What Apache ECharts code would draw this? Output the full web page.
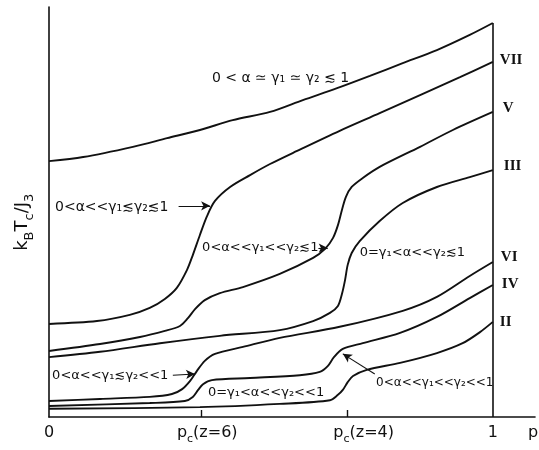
<!DOCTYPE html>
<html><head><meta charset="utf-8">
<script src="https://cdn.jsdelivr.net/npm/echarts@6/dist/echarts.min.js"></script>
<style>html,body{margin:0;padding:0;background:#fff}#c{width:539px;height:450px}</style>
</head><body><div id="c"></div>
<script>
// ---- data (x = p, y = k_B T_c / J_3, arbitrary units) ----
const curveTop = [[0,0.624],[0.077,0.634],[0.189,0.659],[0.266,0.680],[0.34,0.700],[0.414,0.724],[0.498,0.744],[0.572,0.773],[0.649,0.802],[0.723,0.832],[0.797,0.863],[0.874,0.895],[0.948,0.932],[1,0.961]];
const curveVII = [[0,0.227],[0.108,0.234],[0.182,0.249],[0.227,0.266],[0.261,0.288],[0.288,0.315],[0.311,0.359],[0.324,0.395],[0.340,0.444],[0.356,0.490],[0.374,0.527],[0.408,0.561],[0.453,0.590],[0.498,0.617],[0.559,0.649],[0.655,0.698],[0.745,0.741],[0.836,0.785],[0.926,0.829],[1,0.866]];
const curveV = [[0,0.161],[0.115,0.178],[0.205,0.195],[0.261,0.210],[0.295,0.222],[0.313,0.241],[0.329,0.263],[0.351,0.285],[0.385,0.302],[0.437,0.317],[0.520,0.349],[0.595,0.388],[0.622,0.410],[0.640,0.437],[0.651,0.468],[0.660,0.505],[0.669,0.537],[0.682,0.561],[0.707,0.583],[0.745,0.610],[0.836,0.659],[0.910,0.700],[1,0.744]];
const curveIII = [[0,0.146],[0.115,0.159],[0.25,0.180],[0.385,0.198],[0.52,0.212],[0.595,0.234],[0.633,0.254],[0.651,0.271],[0.660,0.300],[0.667,0.334],[0.673,0.371],[0.682,0.400],[0.700,0.429],[0.745,0.478],[0.797,0.522],[0.874,0.561],[0.948,0.585],[1,0.602]];
const curveVI = [[0,0.039],[0.115,0.044],[0.227,0.049],[0.277,0.056],[0.300,0.068],[0.318,0.088],[0.333,0.112],[0.351,0.137],[0.374,0.154],[0.437,0.171],[0.520,0.193],[0.655,0.220],[0.797,0.259],[0.874,0.293],[0.948,0.344],[1,0.378]];
const curveIV = [[0,0.027],[0.227,0.034],[0.306,0.039],[0.324,0.049],[0.336,0.066],[0.347,0.080],[0.367,0.090],[0.453,0.095],[0.565,0.102],[0.610,0.110],[0.628,0.124],[0.642,0.146],[0.662,0.166],[0.707,0.180],[0.791,0.205],[0.874,0.244],[0.948,0.290],[1,0.322]];
const curveII = [[0,0.020],[0.34,0.024],[0.52,0.032],[0.633,0.041],[0.651,0.054],[0.662,0.066],[0.673,0.085],[0.685,0.100],[0.716,0.115],[0.791,0.132],[0.874,0.156],[0.932,0.180],[0.971,0.207],[1,0.232]];

const curveNames = ['', 'VII', 'V', 'III', 'VI', 'IV', 'II'];
const curves = [curveTop, curveVII, curveV, curveIII, curveVI, curveIV, curveII];

const pc6 = 0.343, pc4 = 0.673;
const xTickValues = [0, pc6, pc4, 1, 1.095];
const xTickLabels = ['{n|0}', '{n|p}{s|c}{n|(z=6)}', '{n|p}{s|c}{n|(z=4)}', '{n|1}', '{n|p}'];
const yAxisLabel = '{n|k}{s|B}{n|T}{s|c}{n|/J}{s|3}';

const annotationTexts = [
  '0 < α ≃ γ₁ ≃ γ₂ ≲ 1',
  '0<α<<γ₁≲γ₂≲1',
  '0<α<<γ₁<<γ₂≲1',
  '0=γ₁<α<<γ₂≲1',
  '0<α<<γ₁≲γ₂<<1',
  '0=γ₁<α<<γ₂<<1',
  '0<α<<γ₁<<γ₂<<1'
];

// ---- layout (positions / styles) ----
const annotationAnchors = [[0.367,0.827],[0.0135,0.512],[0.345,0.412],[0.700,0.402],[0.007,0.102],[0.358,0.059],[0.737,0.083]];
const annotationSizes = [14, 14, 13, 13, 13, 13, 12];
const arrowSegments = [
  [[0.292,0.515],[0.363,0.515]],
  [[0.607,0.412],[0.628,0.412]],
  [[0.279,0.102],[0.329,0.105]],
  [[0.734,0.105],[0.662,0.154]]
];
const endLabelOffsets = [[0,0],[-1,-2],[2,-4],[3,-4],[0,-5],[1,-1],[-1,0]];
const xLabelShift = [0, 6, 16, 0, -2];
const INK = '#111';
const FONT = '"DejaVu Sans", "Liberation Sans", sans-serif';

const chart = echarts.init(document.getElementById('c'), null, {renderer: 'canvas'});

const series = curves.map((c, i) => ({
  type: 'line',
  name: curveNames[i],
  data: c,
  showSymbol: false,
  smooth: 0.3,
  silent: true,
  lineStyle: {color: INK, width: 1.9},
  endLabel: {
    show: curveNames[i] !== '',
    formatter: () => curveNames[i],
    offset: endLabelOffsets[i],
    color: INK,
    fontFamily: '"Liberation Serif", serif',
    fontWeight: 'bold',
    fontSize: 15
  }
}));

// vertical line at p = 1 and annotation arrows
series[0].markLine = {
  silent: true,
  animation: false,
  symbolSize: [7, 9],
  label: {show: false},
  lineStyle: {color: INK, width: 1.6, type: 'solid'},
  data: [
    [{coord: [1, 0], symbol: 'none'}, {coord: [1, curveTop[curveTop.length - 1][1]], symbol: 'none'}]
  ].concat(arrowSegments.map(s => [
    {coord: s[0], symbol: 'none', lineStyle: {width: 1.1}},
    {coord: s[1], symbol: 'arrow'}
  ]))
};

chart.setOption({
  animation: false,
  backgroundColor: '#fff',
  grid: {left: 49, right: 4, top: 7, bottom: 33},
  xAxis: {
    type: 'value', min: 0, max: 1.095,
    axisLine: {show: true, onZero: false, lineStyle: {color: INK, width: 1.6}},
    axisTick: {show: true, inside: true, length: 7, customValues: [pc6, pc4], lineStyle: {color: INK, width: 1.4}},
    axisLabel: {show: false},
    splitLine: {show: false}
  },
  yAxis: {
    type: 'value', min: 0, max: 1,
    axisLine: {show: true, onZero: false, lineStyle: {color: INK, width: 1.6}},
    axisTick: {show: false},
    axisLabel: {show: false},
    splitLine: {show: false}
  },
  series: series
});

const P = (x, y) => chart.convertToPixel({gridIndex: 0}, [x, y]);
const richStyle = (n, s, drop) => ({
  n: {font: n + 'px ' + FONT, fill: INK, verticalAlign: 'bottom', padding: [0, 0, drop, 0]},
  s: {font: s + 'px ' + FONT, fill: INK, verticalAlign: 'bottom'}
});

const graphics = [];
annotationTexts.forEach((t, i) => {
  const p = P(annotationAnchors[i][0], annotationAnchors[i][1]);
  graphics.push({
    type: 'text', x: p[0], y: p[1], silent: true,
    style: {text: t, font: annotationSizes[i] + 'px ' + FONT, fill: INK, align: 'left', verticalAlign: 'middle', textAlign: 'left', textVerticalAlign: 'middle'}
  });
});
xTickValues.forEach((v, i) => {
  const p = P(v, 0);
  graphics.push({
    type: 'text', x: p[0] + xLabelShift[i], y: p[1] + 18, silent: true,
    style: {text: xTickLabels[i], rich: richStyle(16, 11, 4), align: 'center', verticalAlign: 'middle', textAlign: 'center', textVerticalAlign: 'middle'}
  });
});
{
  const p = P(0, 0.475);
  graphics.push({
    type: 'text', x: p[0] - 24, y: p[1], rotation: Math.PI / 2, silent: true,
    style: {text: yAxisLabel, rich: richStyle(18, 13, 5), align: 'center', verticalAlign: 'middle', textAlign: 'center', textVerticalAlign: 'middle'}
  });
}
chart.setOption({graphic: graphics});
</script>
</body></html>
